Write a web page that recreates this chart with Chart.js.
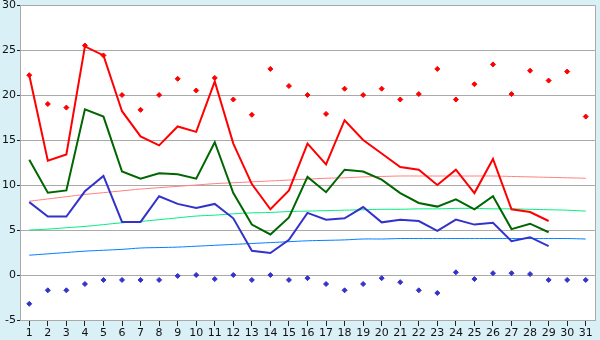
<!DOCTYPE html>
<html>
<head>
<meta charset="utf-8">
<script src="https://cdn.jsdelivr.net/npm/chart.js@4/dist/chart.umd.min.js"></script>
<style>
html,body{margin:0;padding:0;background:#d9f0f7;}
#wrap{width:600px;height:340px;}
</style>
</head>
<body>
<div id="wrap"><canvas id="c" width="600" height="340"></canvas></div>
<script>
const categories = ["1","2","3","4","5","6","7","8","9","10","11","12","13","14","15","16","17","18","19","20","21","22","23","24","25","26","27","28","29","30","31"];
const yTicks = [-5, 0, 5, 10, 15, 20, 25, 30];

const maxAvg = [22.2,12.7,13.4,25.4,24.4,18.2,15.4,14.4,16.5,15.9,21.5,14.6,10.1,7.3,9.4,14.6,12.3,17.2,15.0,13.5,12.0,11.7,10.0,11.7,9.1,12.9,7.3,7.0,6.0,null,null];
const meanAvg = [12.8,9.15,9.4,18.4,17.6,11.5,10.7,11.3,11.2,10.7,14.75,9.1,5.6,4.5,6.4,10.9,9.2,11.7,11.5,10.6,9.1,8.0,7.6,8.4,7.3,8.75,5.1,5.7,4.75,null,null];
const minAvg = [8.1,6.5,6.5,9.3,11.0,5.9,5.9,8.75,7.9,7.45,7.9,6.3,2.7,2.45,3.9,6.9,6.15,6.3,7.55,5.85,6.15,6.0,4.9,6.15,5.6,5.8,3.75,4.2,3.2,null,null];

const maxRecord = [22.2,19.0,18.6,25.5,24.4,20.0,18.35,20.0,21.8,20.5,21.9,19.5,17.8,22.9,21.0,20.0,17.9,20.7,20.0,20.7,19.5,20.1,22.9,19.5,21.2,23.4,20.1,22.7,21.6,22.6,17.6];
const minRecord = [-3.2,-1.7,-1.7,-1.0,-0.55,-0.55,-0.55,-0.55,-0.1,0.0,-0.45,0.0,-0.55,0.0,-0.55,-0.35,-1.0,-1.7,-1.0,-0.35,-0.8,-1.7,-2.0,0.3,-0.45,0.2,0.2,0.1,-0.55,-0.55,-0.55];

const maxTrend = [8.2,8.45,8.7,8.95,9.15,9.35,9.55,9.7,9.85,10.0,10.15,10.25,10.35,10.45,10.55,10.65,10.75,10.8,10.9,10.95,11.0,11.0,11.0,11.0,11.0,11.0,10.95,10.9,10.85,10.8,10.75];
const meanTrend = [5.0,5.1,5.25,5.4,5.6,5.8,5.95,6.15,6.35,6.55,6.65,6.8,6.9,6.95,7.05,7.1,7.15,7.2,7.25,7.3,7.3,7.35,7.35,7.4,7.4,7.35,7.35,7.3,7.25,7.2,7.1];
const minTrend = [2.2,2.35,2.5,2.65,2.75,2.85,3.0,3.05,3.1,3.2,3.3,3.4,3.5,3.6,3.7,3.8,3.85,3.9,4.0,4.0,4.05,4.05,4.05,4.05,4.05,4.05,4.05,4.05,4.05,4.05,4.0];

const bgPlugin = {
  id: 'bg',
  beforeDraw(chart) {
    const ctx = chart.ctx, a = chart.chartArea;
    ctx.save();
    ctx.fillStyle = '#d9f0f7';
    ctx.fillRect(0, 0, chart.width, chart.height);
    ctx.fillStyle = '#ffffff';
    ctx.fillRect(a.left, a.top, a.right - a.left, a.bottom - a.top);
    ctx.restore();
  },
  afterDatasetsDraw(chart) {
    const ctx = chart.ctx, a = chart.chartArea;
    ctx.save();
    ctx.strokeStyle = '#aaaaaa';
    ctx.lineWidth = 1;
    ctx.beginPath();
    ctx.moveTo(a.left, a.top + 0.5);
    ctx.lineTo(a.right + 0.5, a.top + 0.5);
    ctx.lineTo(a.right + 0.5, a.bottom);
    ctx.stroke();
    ctx.restore();
  }
};

function pts(data, color) {
  return {data, showLine: false, pointStyle: 'rectRot', pointRadius: 2.5, pointBorderWidth: 1,
    pointBackgroundColor: color, pointBorderColor: color, borderColor: color, backgroundColor: color};
}
function line(data, color, w, tension) {
  return {data, borderColor: color, backgroundColor: color, borderWidth: w, pointRadius: 0,
    tension: tension, spanGaps: false, fill: false};
}

new Chart(document.getElementById('c'), {
  type: 'line',
  data: {
    labels: categories,
    datasets: [
      pts(maxRecord, '#ff0000'),
      pts(minRecord, '#3333cc'),
      line(maxAvg, '#ff0000', 2, 0),
      line(meanAvg, '#006600', 2, 0),
      line(minAvg, '#3333cc', 2, 0),
      line(maxTrend, '#ff8080', 1, 0.4),
      line(meanTrend, '#00f080', 1, 0.4),
      line(minTrend, '#0080ff', 1, 0.4)
    ]
  },
  options: {
    responsive: false,
    animation: false,
    devicePixelRatio: 1,
    layout: {padding: {top: 5, right: 5, left: 0, bottom: 0}},
    plugins: {legend: {display: false}, tooltip: {enabled: false}},
    scales: {
      x: {
        offset: true,
        grid: {display: true, drawOnChartArea: false, drawTicks: true, tickLength: 6, tickColor: '#222222', offset: false},
        border: {display: true, color: '#aaaaaa'},
        ticks: {color: '#111111', font: {family: 'DejaVu Sans', size: 11}, padding: 1, maxRotation: 0, autoSkip: false},
        afterFit(s) { s.height = 20; s.paddingLeft = 0; s.paddingRight = 0; }
      },
      y: {
        min: -5, max: 30,
        afterBuildTicks(s) { s.ticks = yTicks.map(v => ({value: v})); },
        grid: {color: '#aaaaaa', drawTicks: true, tickLength: 3, tickColor: '#222222'},
        border: {display: true, color: '#aaaaaa'},
        ticks: {color: '#111111', font: {family: 'DejaVu Sans', size: 11}, padding: 1},
        afterFit(s) { s.width = 20; s.paddingTop = 0; s.paddingBottom = 0; }
      }
    }
  },
  plugins: [bgPlugin]
});
</script>
</body>
</html>
